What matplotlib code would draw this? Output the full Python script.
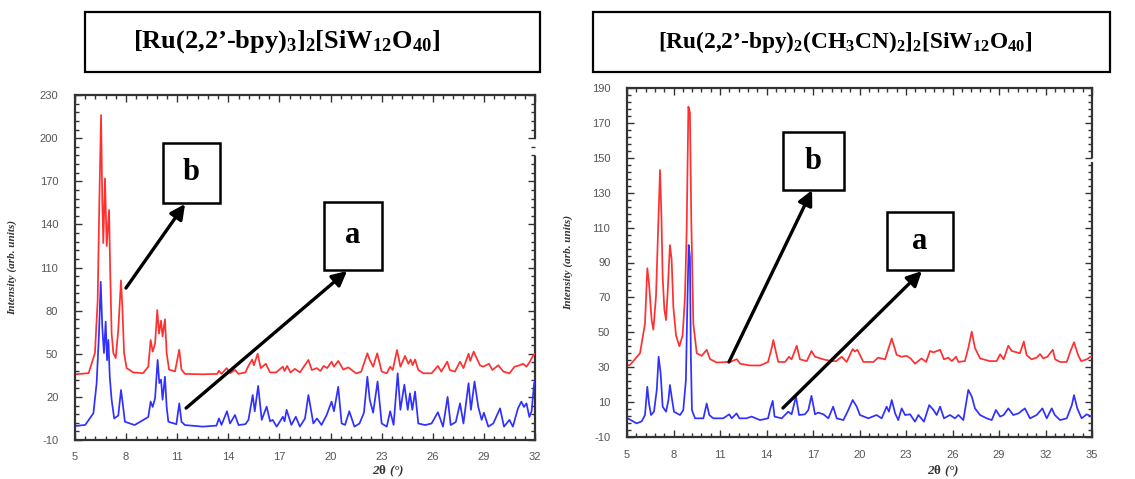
import matplotlib
matplotlib.use("Agg")
import matplotlib.pyplot as plt
from matplotlib.patches import Rectangle
from matplotlib.lines import Line2D
from matplotlib.ticker import AutoMinorLocator

plt.rcParams['mathtext.fontset'] = 'custom'
plt.rcParams['mathtext.rm'] = 'Liberation Serif:bold'
plt.rcParams['mathtext.it'] = 'Liberation Serif:bold:italic'
plt.rcParams['mathtext.bf'] = 'Liberation Serif:bold'
plt.rcParams['mathtext.default'] = 'rm'
plt.rcParams['axes.unicode_minus'] = False

# ---------------- data ----------------
title_left = r"[Ru(2,2’-bpy)$_3$]$_2$[SiW$_{12}$O$_{40}$]"
title_right = r"[Ru(2,2’-bpy)$_2$(CH$_3$CN)$_2$]$_2$[SiW$_{12}$O$_{40}$]"

left_xticks = [5, 8, 11, 14, 17, 20, 23, 26, 29, 32]
left_yticks = [-10, 20, 50, 80, 110, 140, 170, 200, 230]
right_xticks = [5, 8, 11, 14, 17, 20, 23, 26, 29, 32, 35]
right_yticks = [-10, 10, 30, 50, 70, 90, 110, 130, 150, 170, 190]

# Left panel, curve b (red)
lb_x = [5.0, 5.8, 6.17, 6.33, 6.43, 6.53, 6.6, 6.66, 6.76, 6.86, 7.0, 7.06, 7.15, 7.25,
        7.39, 7.54, 7.7, 7.78, 7.88, 8.03, 8.42, 9.0, 9.3, 9.44, 9.56, 9.7, 9.83, 9.93,
        10.05, 10.14, 10.28, 10.38, 10.52, 10.87, 11.12, 11.25, 11.45, 12.5, 13.35, 13.45,
        13.6, 13.9, 14.1, 14.4, 14.6, 15.0, 15.2, 15.4, 15.5, 15.72, 15.9, 16.2, 16.45,
        16.8, 17.2, 17.3, 17.45, 17.65, 17.9, 18.2, 18.7, 18.9, 19.2, 19.4, 19.6, 19.8,
        20.06, 20.2, 20.45, 20.75, 21.04, 21.5, 21.8, 22.16, 22.3, 22.5, 22.74, 23.0, 23.3,
        23.5, 23.65, 23.9, 24.1, 24.37, 24.57, 24.7, 24.82, 24.96, 25.15, 25.45, 25.93,
        26.3, 26.5, 26.85, 27.0, 27.3, 27.6, 27.8, 28.1, 28.2, 28.4, 28.57, 28.77, 28.95,
        29.3, 29.5, 29.85, 30.14, 30.5, 30.8, 31.1, 31.3, 31.5, 31.7, 31.9, 32.0]
lb_y = [35.7, 36.5, 50.5, 87, 157, 216, 157, 127, 172, 125, 150, 110.6, 64, 50.5,
        47, 66.5, 101, 82, 50.5, 40, 37, 36.5, 41, 59.6, 51.5, 57, 80.4, 64,
        73, 62, 74, 50.5, 39, 37.7, 52.8, 39, 36, 35.7, 36, 38.2,
        36, 40, 36.5, 38.7, 36, 37, 42, 46, 42, 50, 40, 43, 37,
        37, 41, 38, 41.5, 37, 39.5, 37, 45.7, 38.7, 40, 38, 41.5, 40,
        44.5, 41, 45, 39, 40.5, 36.4, 37.5, 50.3, 45.7, 41, 50.3, 37.6, 36.4,
        41, 38.7, 52.6, 41, 48.5, 43, 46, 42, 46, 38.7, 36.4, 36.4,
        41.5, 37.6, 44.5, 38.7, 37.6, 44.5, 40, 50, 45, 51.5, 47, 42, 41,
        43, 38.7, 42, 37.6, 36.4, 41, 42, 43, 41, 44.5, 49, 50]

# Left panel, curve a (blue)
la_x = [5.0, 5.6, 6.08, 6.27, 6.41, 6.51, 6.6, 6.7, 6.8, 6.88, 6.96, 7.04, 7.15, 7.3,
        7.54, 7.7, 7.8, 7.93, 8.5, 9.3, 9.44, 9.56, 9.7, 9.85, 9.95, 10.05, 10.14, 10.28,
        10.38, 10.48, 10.95, 11.12, 11.25, 11.45, 12.5, 13.3, 13.45, 13.6, 13.92, 14.1,
        14.39, 14.6, 15.0, 15.18, 15.43, 15.55, 15.75, 15.96, 16.25, 16.45, 16.6, 16.84,
        17.2, 17.3, 17.42, 17.7, 17.96, 18.2, 18.5, 18.7, 18.99, 19.2, 19.47, 19.77,
        20.06, 20.2, 20.45, 20.65, 20.85, 21.1, 21.4, 21.7, 21.96, 22.16, 22.3, 22.5,
        22.76, 23.0, 23.3, 23.5, 23.7, 23.94, 24.1, 24.33, 24.53, 24.66, 24.8, 24.96,
        25.15, 25.55, 25.93, 26.3, 26.6, 26.87, 27.05, 27.35, 27.6, 27.8, 28.1, 28.24,
        28.45, 28.67, 28.87, 29.0, 29.26, 29.55, 29.95, 30.18, 30.5, 30.7, 31.0, 31.2,
        31.35, 31.5, 31.67, 31.8, 31.95, 32.0]
la_y = [-0.3, 0.5, 8.6, 29.6, 64.6, 100, 69, 50.5, 72.3, 45.5, 59.6, 34, 18, 5,
        7, 24.8, 15.5, 2.7, 0.4, 6, 16.7, 13, 19, 45.7, 29.6, 32, 18, 34,
        13, 2.7, 1, 15.5, 2.7, 0.4, -0.7, 0, 5, 0.5, 10, 1.5,
        7.4, 0.4, 1, 4, 21.3, 10, 27.6, 4, 13.2, 3, 4, -0.7,
        6.2, 3, 11, 0.5, 6.2, -0.7, 5, 21.3, 1.5, 5, 0.5, 7.4,
        16.7, 10, 27, 1.5, 0.5, 10, -0.7, 1.5, 9, 34, 18, 9,
        30.7, 1.5, -0.7, 10, 0.5, 36.4, 11, 28.5, 11, 22.5, 11, 23.7,
        1.5, 0.4, 1.5, 9.3, -0.7, 20, 0.4, 2.5, 15.5, 1.5, 29.5, 11,
        30.7, 13, 4, 9, -0.7, 1.5, 12, -0.7, 4, -0.7, 12, 16.7,
        13, 15.5, 6, 10, 29.5, 30.7]

# Right panel, curve b (red)
rb_x = [5.0, 5.19, 5.84, 6.16, 6.31, 6.42, 6.59, 6.7, 6.87, 7.02, 7.13, 7.22, 7.3, 7.41,
        7.52, 7.63, 7.77, 7.88, 7.99, 8.16, 8.38, 8.59, 8.74, 8.85, 8.96, 9.06, 9.15, 9.28,
        9.5, 9.82, 10.14, 10.36, 10.79, 11.65, 12.08, 12.3, 12.94, 13.6, 14.1,
        14.33, 14.44, 14.6, 14.76, 15.2, 15.45, 15.62, 15.95, 16.16, 16.6, 16.9, 17.13,
        17.67, 18.2, 18.5, 18.85, 19.17, 19.56, 19.7, 19.86, 20.25, 20.9, 21.2, 21.65,
        21.86, 22.08, 22.4, 22.72, 23.04, 23.3, 23.58, 24.0, 24.3, 24.55, 24.77, 25.0,
        25.2, 25.45, 25.73, 25.95, 26.23, 26.38, 26.8, 27.02, 27.24, 27.45, 27.78, 28.4,
        28.85, 29.07, 29.3, 29.6, 29.82, 30.35, 30.6, 30.78, 31.1, 31.43, 31.65, 31.86,
        32.12, 32.47, 32.62, 32.94, 33.37, 33.6, 33.84, 34.1, 34.3, 34.66, 34.9, 35.0]
rb_y = [30.9, 31.3, 38, 55, 86.7, 78, 57, 51.5, 70.4, 112.5, 143, 117, 81.9, 63,
        57, 74.4, 100, 91.6, 64.5, 48.3, 42, 48.3, 70.4, 108.6, 179.3, 176, 113, 55,
        38, 36.5, 40, 34.6, 32.7, 33, 34.6, 32, 31, 31, 33,
        40.8, 45.6, 39, 33, 33, 36, 34.5, 42.3, 34.5, 33.5, 39.3, 36,
        34.5, 33.5, 33.5, 36, 33, 40.4, 39, 40, 33, 33, 35.5, 34.5,
        40.4, 46.5, 37, 36, 36.5, 35, 32, 35, 33, 39.3, 38.5, 39.3,
        40, 34.5, 35.5, 33.5, 36, 33, 33.5, 41, 50.4, 41, 35, 33.5,
        33.5, 37.4, 34.5, 42.3, 39.3, 38, 44.7, 37, 34.5, 35.5, 37.5, 35,
        36, 40, 34.5, 33, 33, 39, 44.3, 37, 33.5, 34.5, 36, 36]

# Right panel, curve a (blue)
ra_x = [5.0, 5.19, 5.62, 5.95, 6.16, 6.31, 6.42, 6.55, 6.74, 6.92, 7.04, 7.17, 7.3, 7.52,
        7.67, 7.77, 7.88, 8.03, 8.42, 8.63, 8.8, 8.89, 8.98, 9.06, 9.12, 9.19, 9.39,
        9.93, 10.14, 10.31, 10.57, 11.2, 11.6, 11.75, 12.07, 12.25, 12.7, 13.04, 13.58,
        14.1, 14.25, 14.4, 14.52, 14.98, 15.4, 15.62, 15.9, 16.1, 16.48, 16.7, 16.9,
        17.13, 17.34, 17.67, 17.99, 18.3, 18.53, 18.96, 19.28, 19.56, 19.82, 20.03,
        20.57, 21.1, 21.43, 21.75, 21.9, 22.08, 22.3, 22.5, 22.72, 22.94, 23.26, 23.58,
        23.8, 24.16, 24.5, 24.77, 24.98, 25.2, 25.45, 25.84, 26.16, 26.38, 26.7, 27.02,
        27.24, 27.45, 27.78, 28.2, 28.53, 28.8, 29.07, 29.3, 29.6, 29.92, 30.25, 30.67,
        31.0, 31.43, 31.8, 32.08, 32.4, 32.6, 32.94, 33.37, 33.7, 33.84, 34.05, 34.33,
        34.66, 34.98]
ra_y = [0.7, 0, -2.2, -1, 2.6, 18.8, 9.2, 2.6, 4.5, 17, 36, 26.5, 7.4, 4.5,
        11, 19.8, 13, 4.5, 2.6, 5.4, 22.6, 64.6, 100, 93, 36, 5.4, 0.7,
        0.7, 9.2, 2.6, 0.7, 0.7, 3, 0.7, 3.5, 0.7, 0.7, 1.7, -0.3,
        0.7, 6.4, 10.7, 1.7, 0.7, 4.5, 3, 13.2, 2.6, 3, 5.5, 13.6,
        3, 4, 3, 0.7, 7.4, 0.7, -0.3, 5.5, 11.2, 7.4, 2.6,
        0.7, 2.6, 0.7, 7.4, 4.5, 11.2, 3.5, -0.3, 6.4, 2.6, 3, -1.2,
        2.6, -1.2, 8.3, 5.5, 2.6, 7.4, 0.7, 2.6, 0.7, 2.6, -0.3, 17,
        13.3, 6.4, 2.6, 0.7, -0.3, 5.5, 1.7, 2.6, 6.4, 2.6, 3.5, 6.4,
        0.7, 2.6, 6.4, 0.7, 6.4, 2.6, -0.3, 0.7, 8.3, 14, 6.4, 0.7,
        3, 1.7]

RED = '#ff3030'
BLUE = '#3030ff'
SPINE = '#333333'
TICKC = '#555555'

W, H = 1135, 479
fig = plt.figure(figsize=(W / 100, H / 100), dpi=100)


def px_axes(x0, y0, x1, y1):
    return fig.add_axes([x0 / W, 1 - y1 / H, (x1 - x0) / W, (y1 - y0) / H])


axL = px_axes(75, 95, 535, 440)
axR = px_axes(627, 88, 1092, 437)


def style(ax, xlim, ylim, xticks, yticks, gap, ylab_x, xlab_y):
    ax.set_xlim(*xlim)
    ax.set_ylim(*ylim)
    ax.set_xticks(xticks)
    ax.set_yticks(yticks)
    ax.xaxis.set_minor_locator(AutoMinorLocator(5))
    ax.yaxis.set_minor_locator(AutoMinorLocator(5))
    ax.tick_params(which='both', direction='in', top=True, right=True,
                   color=SPINE, width=1.0)
    ax.tick_params(which='major', length=5)
    ax.tick_params(which='minor', length=3)
    ax.tick_params(axis='both', labelsize=8, labelcolor=TICKC)
    ax.tick_params(axis='x', pad=9)
    ax.tick_params(axis='y', pad=12)
    for lab in ax.get_xticklabels() + ax.get_yticklabels():
        lab.set_fontfamily('Liberation Sans')
    for s in ['left', 'bottom', 'top']:
        ax.spines[s].set_color(SPINE)
        ax.spines[s].set_linewidth(1.6)
    ax.spines['right'].set_visible(False)
    ax.add_line(Line2D([1, 1], [0, gap[0]], transform=ax.transAxes, color=SPINE,
                       lw=1.6, clip_on=False))
    ax.add_line(Line2D([1, 1], [gap[1], 1], transform=ax.transAxes, color=SPINE,
                       lw=1.6, clip_on=False))
    ax.set_ylabel('Intensity (arb. units)', fontsize=8, fontweight='bold',
                  fontstyle='italic', family='Liberation Serif', color='#333333')
    ax.yaxis.set_label_coords(ylab_x, 0.5)
    ax.set_xlabel(r'2$\theta$ (°)', fontsize=9.5, fontweight='bold', fontstyle='italic',
                  family='Liberation Serif', color='#333333')
    ax.xaxis.set_label_coords(0.68, xlab_y)


style(axL, (5, 32), (-10, 230), left_xticks, left_yticks, (0.82, 0.875), -0.126, -0.068)
style(axR, (5, 35), (-10, 190), right_xticks, right_yticks, (0.785, 0.802), -0.115, -0.077)

axL.plot(lb_x, lb_y, color=RED, lw=1.25)
axL.plot(la_x, la_y, color=BLUE, lw=1.25)
axR.plot(rb_x, rb_y, color=RED, lw=1.25)
axR.plot(ra_x, ra_y, color=BLUE, lw=1.25)


def label_box(ax, x0, x1, y0, y1, letter):
    ax.add_patch(Rectangle((x0, y0), x1 - x0, y1 - y0, fill=True, facecolor='white',
                           edgecolor='black', lw=1.8, clip_on=False, zorder=5))
    ax.text((x0 + x1) / 2, (y0 + y1) / 2, letter, ha='center', va='center',
            fontsize=22, fontweight='bold', family='Liberation Serif', zorder=6)


def arrow(ax, start, end):
    ax.annotate('', xy=end, xytext=start,
                arrowprops=dict(arrowstyle='-|>', lw=2.4, color='black',
                                mutation_scale=22, shrinkA=0, shrinkB=0),
                zorder=4, annotation_clip=False)


label_box(axL, 10.17, 13.51, 154.9, 196.6, 'b')
label_box(axL, 19.6, 23.0, 108.3, 155.6, 'a')
arrow(axL, (7.99, 95.7), (11.46, 154.2))
arrow(axL, (11.52, 12.2), (20.97, 107.6))

label_box(axR, 15.06, 19.0, 131.5, 164.8, 'b')
label_box(axR, 21.77, 26.03, 85.7, 118.9, 'a')
arrow(axR, (11.58, 33.0), (16.94, 131.5))
arrow(axR, (15.06, 6.6), (24.03, 85.1))


def title_box(x0, x1, y0, y1, text, size, tx):
    fig.patches.append(Rectangle((x0 / W, 1 - y1 / H), (x1 - x0) / W, (y1 - y0) / H,
                                 transform=fig.transFigure, fill=False,
                                 edgecolor='black', lw=1.6))
    fig.text(tx / W, 1 - (y0 + y1) / 2 / H, text, ha='center', va='center',
             fontsize=size, fontweight='bold', family='Liberation Serif')


title_box(85, 540, 12, 72, title_left, 19, 287)
title_box(593, 1110, 12, 72, title_right, 16.8, 845)

fig.savefig('out.png', dpi=100)
